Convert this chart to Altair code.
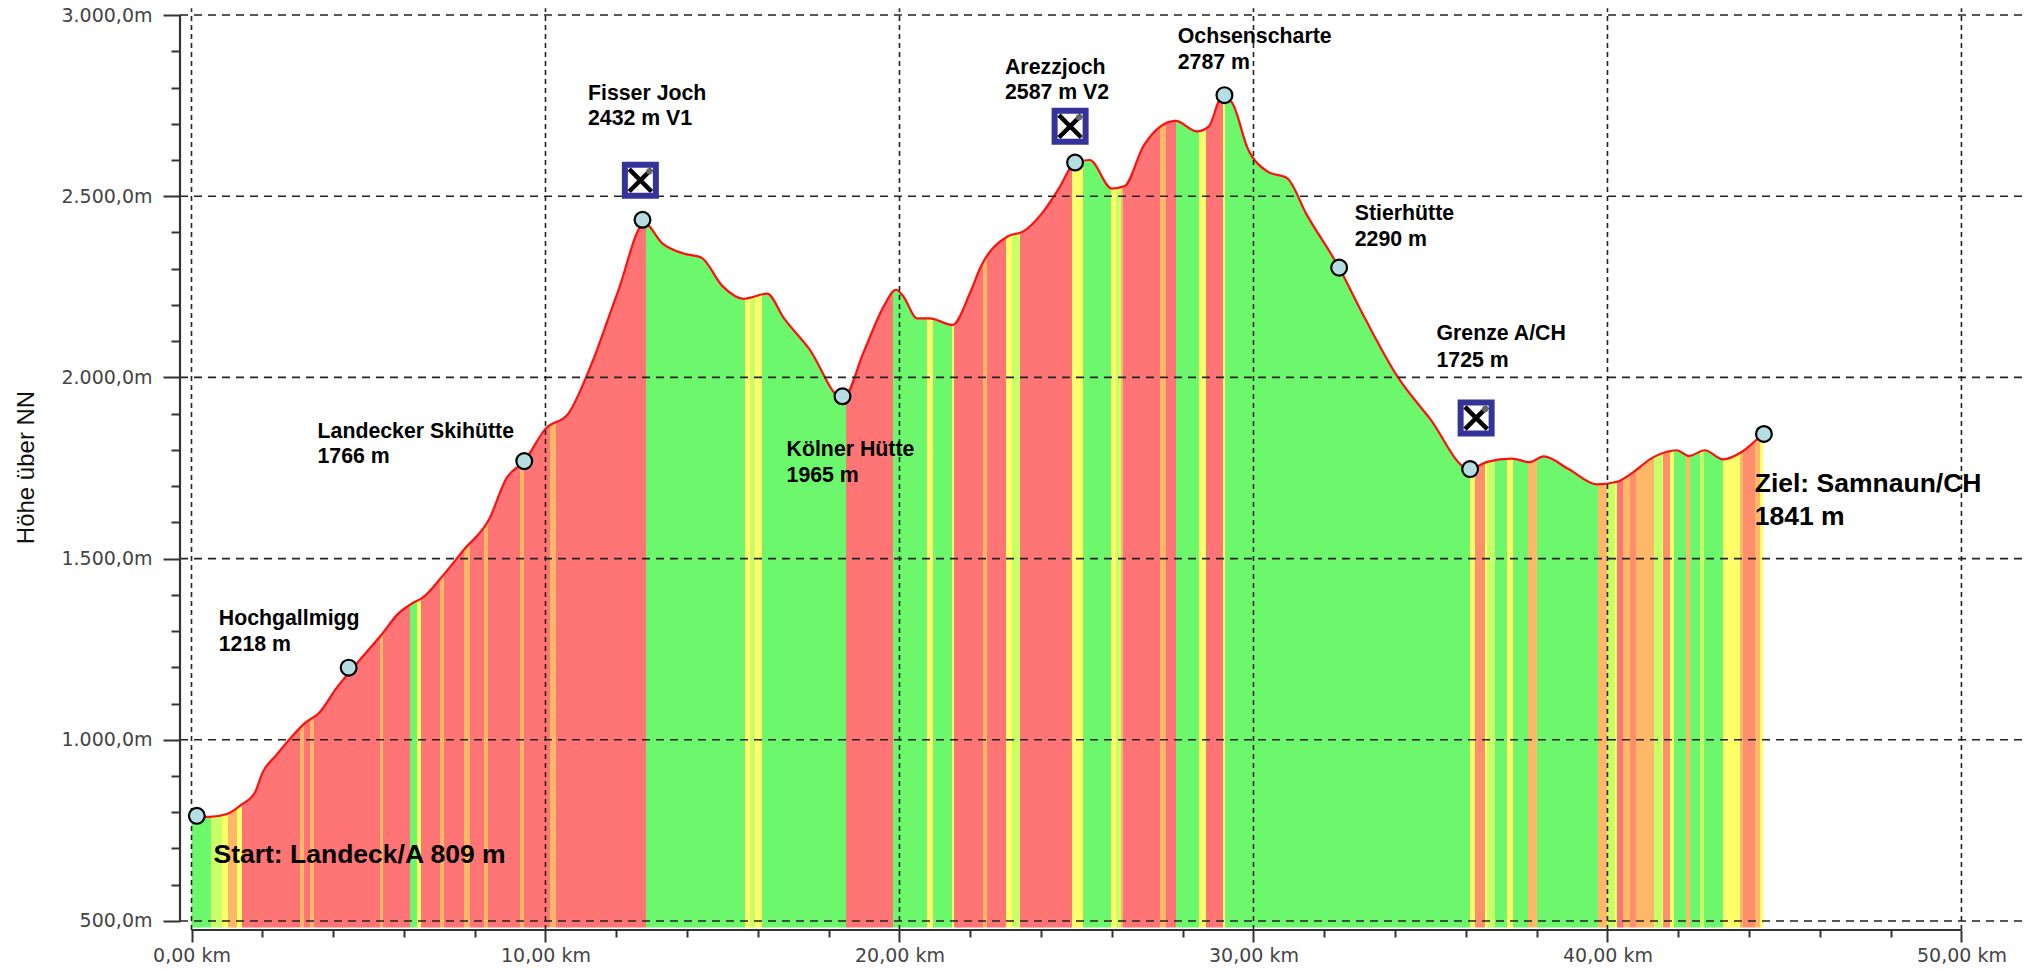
import altair as alt
import pandas as pd

# Elevation profile
km = [0, 0.5, 1.0, 1.4, 1.8, 2.0, 2.4, 2.8, 3.2, 3.6, 4.1, 4.7, 5.4, 5.8, 6.3, 6.5,
      7.1, 7.7, 8.4, 8.9, 9.4, 10.0, 10.65, 11.3, 12.04, 12.8, 13.3, 13.9, 14.4, 15.0,
      15.6, 16.26, 16.74, 17.44, 18.4, 19.0, 19.57, 19.9, 20.1, 20.5, 20.85, 21.5, 22.0,
      22.3, 23.05, 23.5, 24.0, 24.5, 24.96, 25.37, 26.0, 26.36, 26.9, 27.8, 28.4, 28.74,
      29.1, 29.37, 29.85, 30.4, 30.95, 31.5, 32.4, 33.15, 34.07, 34.98, 36.1, 36.6, 37.3,
      37.8, 38.2, 38.9, 39.7, 40.27, 40.65, 41.3, 41.96, 42.3, 42.75, 43.27, 43.8, 44.4]
elev = [790, 787, 795, 820, 856, 908, 958, 1005, 1046, 1074, 1143, 1214, 1294, 1344, 1380, 1390,
        1453, 1525, 1607, 1722, 1769, 1858, 1901, 2037, 2235, 2425, 2370, 2342, 2331, 2252,
        2217, 2231, 2163, 2080, 1941, 2073, 2199, 2242, 2225, 2163, 2163, 2145, 2235,
        2306, 2389, 2403, 2450, 2521, 2593, 2600, 2521, 2528, 2640, 2708, 2679, 2693,
        2772, 2761, 2629, 2568, 2550, 2450, 2306, 2163, 2002, 1887, 1747, 1767, 1776,
        1766, 1782, 1747, 1705, 1712, 1733, 1780, 1799, 1783, 1799, 1774, 1795, 1846]

# Gradient strips: each colour runs up to the given km
strip_end = [0.55, 0.85, 1.02, 1.28, 1.44, 3.06, 3.19, 3.35, 3.47, 5.33, 5.42, 6.17, 6.36, 6.48,
             7.02, 7.14, 7.71, 7.87, 8.27, 8.37, 9.28, 9.40, 10.13, 10.29, 12.84, 15.64, 15.78,
             15.92, 16.11, 18.49, 19.81, 20.77, 20.94, 21.47, 21.54, 22.37, 22.48, 23.01, 23.17,
             23.40, 24.86, 25.19, 25.97, 26.12, 26.25, 26.31, 27.36, 27.53, 27.81, 28.47, 28.66,
             29.13, 29.20, 36.11, 36.26, 36.54, 36.60, 36.82, 37.15, 37.32, 37.76, 38.02, 39.74,
             39.98, 40.21, 40.26, 40.45, 40.63, 40.80, 41.31, 41.53, 41.58, 41.78, 41.88, 42.22,
             42.33, 42.61, 42.73, 43.25, 43.74, 43.84, 44.17, 44.31, 44.40]
strip_col = ["G", "L", "Y", "O", "Y", "R", "O", "R", "O", "R", "O", "R", "G", "Y",
             "R", "O", "R", "O", "R", "O", "R", "O", "R", "O", "R", "G", "Y",
             "L", "Y", "G", "R", "G", "Y", "G", "Y", "R", "O", "R", "Y",
             "L", "R", "Y", "G", "Y", "L", "O", "R", "O", "R", "G", "Y",
             "R", "Y", "G", "Y", "S", "Y", "L", "G", "Y", "G", "O", "G",
             "O", "L", "Y", "R", "O", "S", "O", "L", "Y", "S", "Y", "G",
             "O", "G", "L", "G", "Y", "O", "S", "O", "Y"]
palette = {"G": "#6cf76c", "R": "#ff7474", "Y": "#ffff6a", "O": "#ffb868",
           "L": "#c8ff68", "S": "#ff8f6c"}

# Way points
pt_km = [0.15, 4.44, 9.4, 12.74, 18.39, 24.96, 29.18, 32.42, 36.12, 44.42]
pt_m = [790, 1199, 1769, 2435, 1948, 2593, 2779, 2303, 1747, 1844]

# Restaurant icons
icon_km = [12.68, 24.82, 36.29]
icon_m = [2544, 2693, 1888]

# Labels
lab_text = ["Hochgallmigg", "1218 m", "Landecker Skihütte", "1766 m", "Fisser Joch", "2432 m V1",
            "Kölner Hütte", "1965 m", "Arezzjoch", "2587 m V2", "Ochsenscharte", "2787 m",
            "Stierhütte", "2290 m", "Grenze A/CH", "1725 m"]
lab_km = [0.77, 0.77, 3.56, 3.56, 11.2, 11.2, 16.81, 16.81, 22.98, 22.98, 27.86, 27.86, 32.86, 32.86, 35.17, 35.17]
lab_m = [1317, 1245, 1833, 1765, 2765, 2697, 1783, 1711, 2837, 2769, 2923, 2851, 2435, 2364, 2102, 2030]
big_text = ["Start: Landeck/A 809 m", "Ziel: Samnaun/CH", "1841 m"]
big_km = [0.62, 44.16, 44.16]
big_m = [661, 1683, 1593]

# Axes
x_major = [0, 10, 20, 30, 40, 50]
x_labels = ["0,00 km", "10,00 km", "20,00 km", "30,00 km", "40,00 km", "50,00 km"]
y_major = [500, 1000, 1500, 2000, 2500, 3000]
y_labels = ["500,0m", "1.000,0m", "1.500,0m", "2.000,0m", "2.500,0m", "3.000,0m"]
x_minor = [2, 4, 6, 8, 12, 14, 16, 18, 22, 24, 26, 28, 32, 34, 36, 38, 42, 44, 46, 48]
y_minor = [600, 700, 800, 900, 1100, 1200, 1300, 1400, 1600, 1700, 1800, 1900,
           2100, 2200, 2300, 2400, 2600, 2700, 2800, 2900]
X_DOM = [-0.325, 51.88]
Y_DOM = [475, 3014]
GRID_TOP = 3019
AREA_BASE = 482


def chain(vals, labs):
    s = "''"
    for v, l in zip(vals, labs):
        s = f"datum.value=={v}?'{l}':{s}"
    return s


stops = []
prev = 0.0
total = km[-1]
for e, c in zip(strip_end, strip_col):
    col = palette[c]
    stops.append(alt.GradientStop(color=col, offset=min(prev / total, 1)))
    stops.append(alt.GradientStop(color=col, offset=min(e / total, 1)))
    prev = e
grad = alt.Gradient(gradient="linear", stops=stops, x1=0, x2=1, y1=0, y2=0)

profile = pd.DataFrame({"km": km, "m": elev, "base": [AREA_BASE] * len(km)})
xs = alt.Scale(domain=X_DOM, nice=False, zero=False)
ys = alt.Scale(domain=Y_DOM, nice=False, zero=False)

x_axis = alt.Axis(orient="bottom", values=x_major, domain=False, grid=False, labelExpr=chain(x_major, x_labels),
                  labelFont="DejaVu Sans", labelFontSize=19, labelColor="#444", labelOverlap=False,
                  labelFlush=False, labelBound=False, labelPadding=4, tickColor="#333", tickWidth=2,
                  tickSize=12, title=None)
x_axis_minor = alt.Axis(orient="bottom", values=x_minor, domain=False, grid=False, labels=False, tickColor="#333",
                        tickWidth=2, tickSize=7, title=None)
y_axis = alt.Axis(orient="left", values=y_major, domain=False, grid=False, labelExpr=chain(y_major, y_labels),
                  labelFont="DejaVu Sans", labelFontSize=19, labelColor="#444", labelOverlap=False,
                  labelBound=False, labelPadding=11, tickColor="#333", tickWidth=2, tickSize=17,
                  title="Höhe über NN", titleFont="Liberation Sans", titleFontSize=24,
                  titleFontWeight="normal", titleColor="#111", titleAngle=270, titleX=-154, titleY=457,
                  titleAlign="center", titleBaseline="middle")
y_axis_minor = alt.Axis(orient="left", values=y_minor, domain=False, grid=False, labels=False, tickColor="#333",
                        tickWidth=2, tickSize=9, title=None)

area = alt.Chart(profile).mark_area(color=grad, interpolate="monotone").encode(
    x=alt.X("km:Q", scale=xs, axis=x_axis),
    y=alt.Y("m:Q", scale=ys, axis=y_axis),
    y2="base:Q",
)
line = alt.Chart(profile).mark_line(color="#ff1010", strokeWidth=2.2, interpolate="monotone").encode(
    x=alt.X("km:Q", scale=xs, axis=x_axis_minor), y=alt.Y("m:Q", scale=ys, axis=y_axis_minor))

vgrid = alt.Chart(pd.DataFrame({"x": x_major, "a": [Y_DOM[0]] * 6, "b": [GRID_TOP] * 6})).mark_rule(
    color="#222", strokeWidth=1.6, strokeDash=[5, 4]).encode(
    x=alt.X("x:Q", scale=xs, axis=None), y=alt.Y("a:Q", scale=ys, axis=None), y2="b:Q")
hgrid = alt.Chart(pd.DataFrame({"y": y_major, "a": [X_DOM[0]] * 6, "b": [X_DOM[1]] * 6})).mark_rule(
    color="#222", strokeWidth=1.6, strokeDash=[8, 6]).encode(
    y=alt.Y("y:Q", scale=ys, axis=None), x=alt.X("a:Q", scale=xs, axis=None), x2="b:Q")
y_line = alt.Chart(pd.DataFrame({"x": [X_DOM[0]], "a": [y_major[0]], "b": [y_major[-1]]})).mark_rule(
    color="#333", strokeWidth=2.2).encode(
    x=alt.X("x:Q", scale=xs, axis=None), y=alt.Y("a:Q", scale=ys, axis=None), y2="b:Q")
x_line = alt.Chart(pd.DataFrame({"y": [Y_DOM[0]], "a": [x_major[0]], "b": [x_major[-1]]})).mark_rule(
    color="#333", strokeWidth=2.2).encode(
    y=alt.Y("y:Q", scale=ys, axis=None), x=alt.X("a:Q", scale=xs, axis=None), x2="b:Q")

points = alt.Chart(pd.DataFrame({"km": pt_km, "m": pt_m})).mark_point(
    filled=True, shape="circle", size=250, fill="#b5dde2", stroke="black", strokeWidth=2.2, opacity=1).encode(
    x=alt.X("km:Q", scale=xs, axis=None), y=alt.Y("m:Q", scale=ys, axis=None))

icons_df = pd.DataFrame({"km": icon_km, "m": icon_m})
icon_box = alt.Chart(icons_df).mark_point(
    shape="square", filled=True, size=961, fill="white", stroke="#333399", strokeWidth=6, opacity=1).encode(
    x=alt.X("km:Q", scale=xs, axis=None), y=alt.Y("m:Q", scale=ys, axis=None))
icon_x = alt.Chart(icons_df).mark_point(
    shape="M-1,-1L1,1M1,-1L-1,1", filled=False, size=500, stroke="black", strokeWidth=4.5, opacity=1).encode(
    x=alt.X("km:Q", scale=xs, axis=None), y=alt.Y("m:Q", scale=ys, axis=None))
icon_fork = alt.Chart(icons_df).mark_point(
    shape="circle", filled=True, size=40, fill="#666", opacity=1, xOffset=9, yOffset=-9).encode(
    x=alt.X("km:Q", scale=xs, axis=None), y=alt.Y("m:Q", scale=ys, axis=None))

labels = alt.Chart(pd.DataFrame({"t": lab_text, "km": lab_km, "m": lab_m})).mark_text(
    align="left", baseline="alphabetic", font="Liberation Sans", fontWeight="bold", fontSize=21.3, color="black").encode(
    x=alt.X("km:Q", scale=xs, axis=None), y=alt.Y("m:Q", scale=ys, axis=None), text="t:N")
big = alt.Chart(pd.DataFrame({"t": big_text, "km": big_km, "m": big_m})).mark_text(
    align="left", baseline="alphabetic", font="Liberation Sans", fontWeight="bold", fontSize=26.5, color="black").encode(
    x=alt.X("km:Q", scale=xs, axis=None), y=alt.Y("m:Q", scale=ys, axis=None), text="t:N")

chart = alt.layer(area, line, hgrid, vgrid, y_line, x_line, points, icon_box, icon_x, icon_fork, labels, big).resolve_axis(
    x="independent", y="independent"
).properties(
    width=1848, height=920, background="white",
    padding={"left": 172, "top": 2, "right": 0, "bottom": 35},
    autosize=alt.AutoSizeParams(type="none"),
).configure_view(stroke=None)

chart.save("out.html", embed_options={"renderer": "svg", "actions": False})
